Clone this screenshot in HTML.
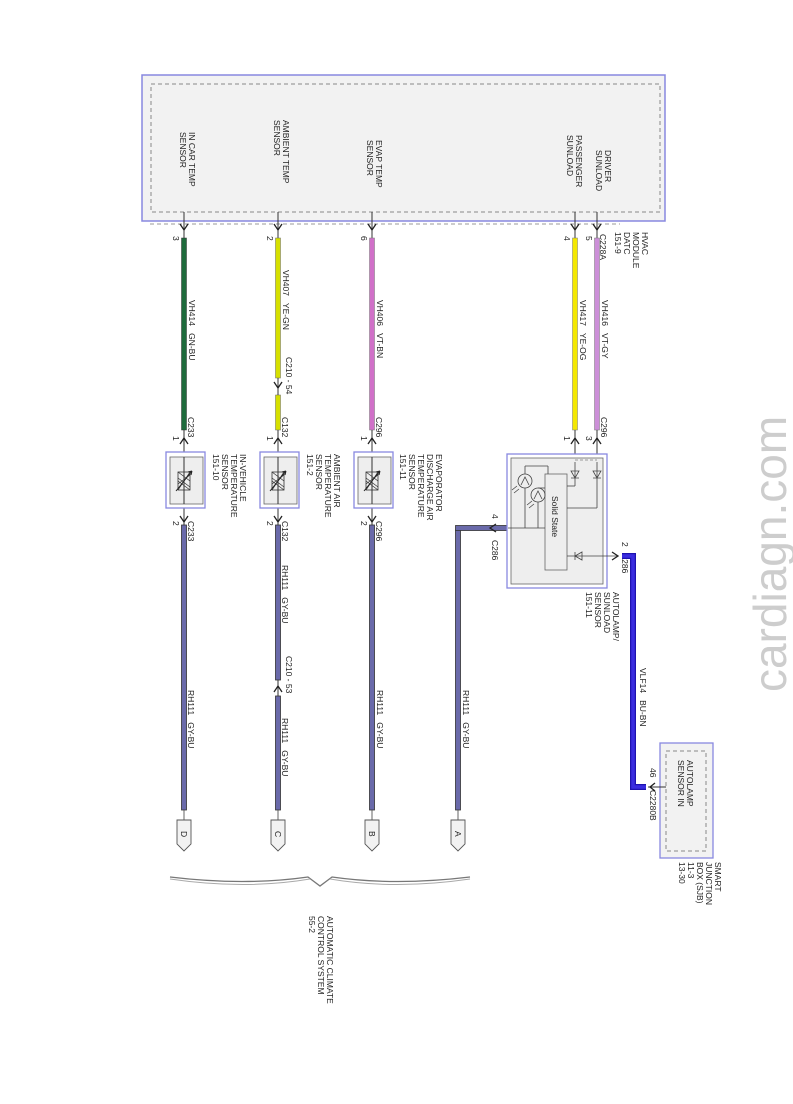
<!DOCTYPE html>
<html><head><meta charset="utf-8"><style>
html,body{margin:0;padding:0;background:#fff;}
svg{display:block;}
text{font-family:"Liberation Sans",sans-serif;fill:#222;white-space:pre;}
.t{font-size:8.5px;}
</style></head><body>
<svg width="793" height="1104" viewBox="0 0 793 1104" xmlns="http://www.w3.org/2000/svg">
<defs>
<g id="res">
  <rect x="-6" y="-9" width="12" height="18" fill="none" stroke="#333" stroke-width="0.8"/>
  <path d="M-6,-9 L6,0 M-6,0 L6,9 M-6,-3 L6,6 M-6,3 L6,-6 M-6,9 L6,-9" stroke="#333" stroke-width="0.7"/>
  <path d="M-8,10 L8,-10 M8,-10 l-4,1 M8,-10 l-1,4" stroke="#222" stroke-width="1"/>
</g>
</defs>

<!-- watermark -->
<text transform="translate(786,692) rotate(-90)" style="font-size:46px;fill:#cdcdcd;">cardiagn.com</text>

<!-- HVAC module -->
<rect x="142" y="75" width="523" height="146" fill="#f2f2f2" stroke="#8888e0" stroke-width="1.5"/>
<rect x="151" y="84" width="509" height="128" fill="none" stroke="#888" stroke-width="1" stroke-dasharray="4,3"/>
<line x1="150" y1="224" x2="620" y2="224" stroke="#999" stroke-dasharray="4,3"/>
<g class="t">
<text transform="translate(189,132) rotate(90)">IN CAR TEMP</text>
<text transform="translate(180,132) rotate(90)">SENSOR</text>
<text transform="translate(283,120) rotate(90)">AMBIENT TEMP</text>
<text transform="translate(274,120) rotate(90)">SENSOR</text>
<text transform="translate(376,140) rotate(90)">EVAP TEMP</text>
<text transform="translate(367,140) rotate(90)">SENSOR</text>
<text transform="translate(576,135) rotate(90)">PASSENGER</text>
<text transform="translate(567,135) rotate(90)">SUNLOAD</text>
<text transform="translate(605,150) rotate(90)">DRIVER</text>
<text transform="translate(596,150) rotate(90)">SUNLOAD</text>
<text transform="translate(642,232) rotate(90)">HVAC</text>
<text transform="translate(633,232) rotate(90)">MODULE</text>
<text transform="translate(624,232) rotate(90)">DATC</text>
<text transform="translate(615,232) rotate(90)">151-9</text>
</g>

<g stroke="#333" stroke-width="1">
<line x1="184" y1="212" x2="184" y2="238"/><line x1="278" y1="212" x2="278" y2="238"/>
<line x1="372" y1="212" x2="372" y2="238"/><line x1="575" y1="212" x2="575" y2="238"/>
<line x1="597" y1="212" x2="597" y2="238"/>
</g>
<path d="M180,224 L184,230 L188,224 M274,224 L278,230 L282,224 M368,224 L372,230 L376,224 M571,224 L575,230 L579,224 M593,224 L597,230 L601,224" fill="none" stroke="#222" stroke-width="1.3"/>
<g class="t">
<text transform="translate(173,236) rotate(90)">3</text>
<text transform="translate(267,236) rotate(90)">2</text>
<text transform="translate(361,236) rotate(90)">6</text>
<text transform="translate(564,236) rotate(90)">4</text>
<text transform="translate(586,236) rotate(90)">5</text>
<text transform="translate(600,234) rotate(90)">C228A</text>
</g>

<rect x="181.5" y="238" width="5" height="192" fill="#1e6b3c" stroke="#333" stroke-width="0.5"/>
<rect x="275.5" y="238" width="5" height="140" fill="#d6e000" stroke="#666" stroke-width="0.5"/>
<rect x="275.5" y="395" width="5" height="35" fill="#d6e000" stroke="#666" stroke-width="0.5"/>
<rect x="369.5" y="238" width="5" height="192" fill="#d070c8" stroke="#777" stroke-width="0.5"/>
<rect x="572.5" y="238" width="5" height="192" fill="#f4e800" stroke="#777" stroke-width="0.5"/>
<rect x="594.5" y="238" width="5" height="192" fill="#cc8fd8" stroke="#777" stroke-width="0.5"/>
<line x1="278" y1="378" x2="278" y2="395" stroke="#333"/>
<path d="M274,382 L278,388 L282,382" fill="none" stroke="#222" stroke-width="1.3"/>
<g class="t">
<text transform="translate(189,300) rotate(90)">VH414   GN-BU</text>
<text transform="translate(283,270) rotate(90)">VH407   YE-GN</text>
<text transform="translate(286,357) rotate(90)">C210 - 54</text>
<text transform="translate(377,300) rotate(90)">VH406   VT-BN</text>
<text transform="translate(580,300) rotate(90)">VH417   YE-OG</text>
<text transform="translate(602,300) rotate(90)">VH416   VT-GY</text>
</g>

<g stroke="#333" stroke-width="1">
<line x1="184" y1="430" x2="184" y2="525"/><line x1="278" y1="430" x2="278" y2="525"/>
<line x1="372" y1="430" x2="372" y2="525"/>
<line x1="575" y1="430" x2="575" y2="462"/><line x1="597" y1="430" x2="597" y2="462"/>
</g>
<path d="M180,444 L184,438 L188,444 M274,444 L278,438 L282,444 M368,444 L372,438 L376,444 M571,444 L575,438 L579,444 M593,444 L597,438 L601,444 M180,516 L184,522 L188,516 M274,516 L278,522 L282,516 M368,516 L372,522 L376,516" fill="none" stroke="#222" stroke-width="1.3"/>
<g class="t">
<text transform="translate(188,417) rotate(90)">C233</text>
<text transform="translate(173,436) rotate(90)">1</text>
<text transform="translate(282,417) rotate(90)">C132</text>
<text transform="translate(267,436) rotate(90)">1</text>
<text transform="translate(376,417) rotate(90)">C296</text>
<text transform="translate(361,436) rotate(90)">1</text>
<text transform="translate(601,417) rotate(90)">C296</text>
<text transform="translate(564,436) rotate(90)">1</text>
<text transform="translate(586,436) rotate(90)">3</text>
<text transform="translate(188,521) rotate(90)">C233</text>
<text transform="translate(173,521) rotate(90)">2</text>
<text transform="translate(282,521) rotate(90)">C132</text>
<text transform="translate(267,521) rotate(90)">2</text>
<text transform="translate(376,521) rotate(90)">C296</text>
<text transform="translate(361,521) rotate(90)">2</text>
</g>

<g>
<rect x="166" y="452" width="39" height="56" fill="#fff" stroke="#8888e0" stroke-width="1.3"/>
<rect x="170" y="457" width="33" height="47" fill="#eee" stroke="#666" stroke-width="0.8"/>
<rect x="260" y="452" width="39" height="56" fill="#fff" stroke="#8888e0" stroke-width="1.3"/>
<rect x="264" y="457" width="33" height="47" fill="#eee" stroke="#666" stroke-width="0.8"/>
<rect x="354" y="452" width="39" height="56" fill="#fff" stroke="#8888e0" stroke-width="1.3"/>
<rect x="358" y="457" width="33" height="47" fill="#eee" stroke="#666" stroke-width="0.8"/>
<line x1="184" y1="457" x2="184" y2="504" stroke="#333"/>
<line x1="278" y1="457" x2="278" y2="504" stroke="#333"/>
<line x1="372" y1="457" x2="372" y2="504" stroke="#333"/>
<use href="#res" x="184" y="481"/><use href="#res" x="278" y="481"/><use href="#res" x="372" y="481"/>
</g>
<g class="t">
<text transform="translate(240,454) rotate(90)">IN-VEHICLE</text>
<text transform="translate(231,454) rotate(90)">TEMPERATURE</text>
<text transform="translate(222,454) rotate(90)">SENSOR</text>
<text transform="translate(213,454) rotate(90)">151-10</text>
<text transform="translate(334,454) rotate(90)">AMBIENT AIR</text>
<text transform="translate(325,454) rotate(90)">TEMPERATURE</text>
<text transform="translate(316,454) rotate(90)">SENSOR</text>
<text transform="translate(307,454) rotate(90)">151-2</text>
<text transform="translate(436,454) rotate(90)">EVAPORATOR</text>
<text transform="translate(427,454) rotate(90)">DISCHARGE AIR</text>
<text transform="translate(418,454) rotate(90)">TEMPERATURE</text>
<text transform="translate(409,454) rotate(90)">SENSOR</text>
<text transform="translate(400,454) rotate(90)">151-11</text>
</g>

<g fill="#6a6aaa" stroke="#333" stroke-width="0.8">
<rect x="181.5" y="525" width="5" height="285"/>
<rect x="275.5" y="525" width="5" height="155"/>
<rect x="275.5" y="696" width="5" height="114"/>
<rect x="369.5" y="525" width="5" height="285"/>
<rect x="455.5" y="530" width="5" height="280"/>
<rect x="455.5" y="525.5" width="52" height="5"/>
</g>
<line x1="278" y1="680" x2="278" y2="696" stroke="#333"/>
<path d="M274,692 L278,686 L282,692" fill="none" stroke="#222" stroke-width="1.3"/>
<path d="M496,524 L490,528 L496,532" fill="none" stroke="#222" stroke-width="1.3"/>
<g class="t">
<text transform="translate(188,690) rotate(90)">RH111   GY-BU</text>
<text transform="translate(282,565) rotate(90)">RH111   GY-BU</text>
<text transform="translate(286,656) rotate(90)">C210 - 53</text>
<text transform="translate(282,718) rotate(90)">RH111   GY-BU</text>
<text transform="translate(377,690) rotate(90)">RH111   GY-BU</text>
<text transform="translate(463,690) rotate(90)">RH111   GY-BU</text>
<text transform="translate(492,514) rotate(90)">4</text>
<text transform="translate(492,540) rotate(90)">C286</text>
</g>

<g fill="#f2f2f2" stroke="#555" stroke-width="0.9">
<line x1="184" y1="810" x2="184" y2="820"/><line x1="278" y1="810" x2="278" y2="820"/>
<line x1="372" y1="810" x2="372" y2="820"/><line x1="458" y1="810" x2="458" y2="820"/>
<path d="M177,820 h14 v24 l-7,7 l-7,-7 z"/>
<path d="M271,820 h14 v24 l-7,7 l-7,-7 z"/>
<path d="M365,820 h14 v24 l-7,7 l-7,-7 z"/>
<path d="M451,820 h14 v24 l-7,7 l-7,-7 z"/>
</g>
<g class="t">
<text transform="translate(181,831) rotate(90)">D</text>
<text transform="translate(275,831) rotate(90)">C</text>
<text transform="translate(369,831) rotate(90)">B</text>
<text transform="translate(455,831) rotate(90)">A</text>
</g>

<path d="M170,877 Q245,886 308,877 L320,886 L332,877 Q395,886 470,877" fill="none" stroke="#777" stroke-width="1.3"/>
<path d="M170,879 Q245,890 310,879" fill="none" stroke="#aaa" stroke-width="1"/>
<path d="M330,879 Q395,890 470,879" fill="none" stroke="#aaa" stroke-width="1"/>
<g class="t">
<text transform="translate(327,916) rotate(90)">AUTOMATIC CLIMATE</text>
<text transform="translate(318,916) rotate(90)">CONTROL SYSTEM</text>
<text transform="translate(309,916) rotate(90)">55-2</text>
</g>

<rect x="507" y="454" width="100" height="134" fill="#fff" stroke="#8888e0" stroke-width="1.3"/>
<rect x="511" y="458" width="92" height="126" fill="#eee" stroke="#666" stroke-width="0.8"/>
<rect x="545" y="474" width="22" height="96" fill="#eee" stroke="#666" stroke-width="0.8"/>
<text transform="translate(552,496) rotate(90)" class="t">Solid State</text>
<g stroke="#444" stroke-width="0.8" fill="none">
<line x1="575" y1="462" x2="575" y2="486"/><line x1="575" y1="486" x2="567" y2="486"/>
<line x1="597" y1="462" x2="597" y2="508"/><line x1="597" y1="508" x2="567" y2="508"/>
<path d="M571,471 h8 l-4,7 z M571,478 h8"/>
<path d="M593,471 h8 l-4,7 z M593,478 h8"/>
<line x1="508" y1="528" x2="545" y2="528"/>
<circle cx="525" cy="481" r="7"/><circle cx="538" cy="495" r="7"/>
<line x1="525" y1="488" x2="525" y2="528"/><line x1="538" y1="502" x2="538" y2="528"/>
<line x1="525" y1="474" x2="525" y2="466"/><line x1="525" y1="466" x2="548" y2="466"/><line x1="548" y1="466" x2="548" y2="474"/>
<line x1="538" y1="488" x2="545" y2="488"/>
<path d="M521,485 L525,477 L529,485 M534,499 L538,491 L542,499"/>
<path d="M512,490 l5,-4 M514,493 l5,-4 M527,505 l5,-4 M529,508 l5,-4"/>
<line x1="567" y1="556" x2="618" y2="556"/>
<path d="M582,552 v8 l-7,-4 z M575,552 v8"/>
</g>
<line x1="575" y1="460" x2="597" y2="460" stroke="#999" stroke-dasharray="3,2"/>
<path d="M612,552 L618,556 L612,560" fill="none" stroke="#222" stroke-width="1.3"/>
<g class="t">
<text transform="translate(622,542) rotate(90)">2</text>
<text transform="translate(622,553) rotate(90)">C286</text>
<text transform="translate(613,592) rotate(90)">AUTOLAMP/</text>
<text transform="translate(604,592) rotate(90)">SUNLOAD</text>
<text transform="translate(595,592) rotate(90)">SENSOR</text>
<text transform="translate(586,592) rotate(90)">151-11</text>
</g>

<path d="M622,556 H633 V787 H646" fill="none" stroke="#1e12b0" stroke-width="6"/>
<path d="M622,556 H633 V787 H646" fill="none" stroke="#3a2ce0" stroke-width="3.5"/>
<text transform="translate(640,668) rotate(90)" class="t">VLF14   BU-BN</text>

<rect x="660" y="743" width="53" height="115" fill="#f2f2f2" stroke="#8888e0" stroke-width="1.3"/>
<rect x="666" y="751" width="40" height="100" fill="none" stroke="#888" stroke-dasharray="4,3"/>
<line x1="648" y1="787" x2="666" y2="787" stroke="#333"/>
<path d="M655,783 L650,787 L655,791" fill="none" stroke="#222" stroke-width="1.3"/>
<g class="t">
<text transform="translate(687,760) rotate(90)">AUTOLAMP</text>
<text transform="translate(678,760) rotate(90)">SENSOR IN</text>
<text transform="translate(650,768) rotate(90)">46</text>
<text transform="translate(650,790) rotate(90)">C2280B</text>
<text transform="translate(715,862) rotate(90)">SMART</text>
<text transform="translate(706,862) rotate(90)">JUNCTION</text>
<text transform="translate(697,862) rotate(90)">BOX (SJB)</text>
<text transform="translate(688,862) rotate(90)">11-3</text>
<text transform="translate(679,862) rotate(90)">13-30</text>
</g>
</svg>
</body></html>
